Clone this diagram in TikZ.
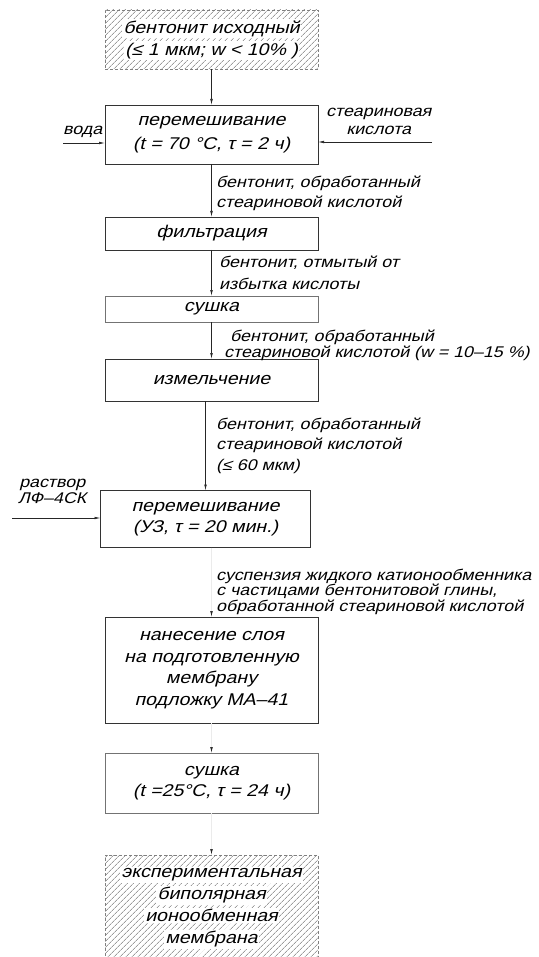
\documentclass[tikz,border=0pt]{standalone}
\usepackage{fontspec}
\setmainfont{Liberation Sans}[FakeSlant=0.25, FakeStretch=1.15]
\usetikzlibrary{arrows.meta, calc, patterns.meta, positioning}
\newcommand{\wline}[1]{{\setlength{\fboxsep}{1.5pt}\colorbox{white}{#1}}}

\begin{document}
\begin{tikzpicture}[x=1pt, y=-1pt,
   box/.style = {draw=black!80, line width=0.6pt,
                 font=\fontsize{17}{21.5}\selectfont,
                 align=center, inner sep=0pt, outer sep=0pt,
                 minimum width=213pt},
   hbx/.style = {draw=black!50, densely dashed, line width=0.5pt,
                 pattern={Lines[angle=45, distance=4pt, line width=0.55pt]},
                 pattern color=black!60,
                 minimum width=213pt, inner sep=0pt, outer sep=0pt},
   htx/.style = {inner sep=0pt, align=center,
                 font=\fontsize{17}{22}\selectfont},
   lbl/.style = {anchor=base west, align=left, inner sep=0pt,
                 font=\fontsize{15.5}{#1}\selectfont},
   arr/.style = {draw=black!85, line width=0.6pt,
                 -{Latex[length=6pt,width=2.6pt]}},
  farr/.style = {draw=black!8, line width=0.6pt,
                 -{Latex[length=6pt,width=2.6pt,color=black!85]}}
                        ]
\useasboundingbox (0,0) rectangle (538,957);
    % blocks (boxes)
\node (n1) [hbx, minimum height=59pt] at (211.5,39.5) {};
\node (t1) [htx] at (n1) {\wline{бентонит исходный}\\\wline{(≤ 1 мкм;  w < 10\% )}};
\node (n2) [box, minimum height=59pt, font=\fontsize{17}{24}\selectfont]
           at (211.5,134.5) {перемешивание\\(t = 70 °C, τ = 2 ч)};
\node (n3) [box, minimum height=33pt]  at (211.5,233.5) {фильтрация};
\node (n4) [box, minimum height=26pt, draw=black!55] at (211.5,309) {сушка};
\node (n5) [box, minimum height=42pt]  at (211.5,380) {измельчение};
\node (n6) [box, minimum height=57pt, minimum width=210pt] at (205.5,519)
           {перемешивание\\(УЗ, τ = 20 мин.)};
\node (n7) [box, minimum height=106pt] at (211.5,670)
           {нанесение слоя\\на подготовленную\\мембрану\\подложку МА–41};
\node (n8) [box, minimum height=60pt, draw=black!55] at (211.5,783)
           {сушка\\(t =25°C, τ = 24 ч)};
\node (n9) [hbx, minimum height=106pt] at (211.5,908) {};
\node (t9) [htx] at (n9)
           {\wline{экспериментальная}\\\wline{биполярная}\\\wline{ионообменная}\\\wline{мембрана}};
    % labels (anchored at the baseline of their last line)
\node (lw) [lbl=18] at (63,135)  {вода};
\node (ls) [lbl=18, align=center] at (326,135) {стеариновая\\кислота};
\node (lr) [lbl=15.5, align=center] at (18,503) {раствор\\ЛФ–4СК};
\node (l2) [lbl=20]   at (216,208) {бентонит, обработанный\\стеариновой кислотой};
\node (l3) [lbl=22]   at (219,290) {бентонит, отмытый от\\избытка кислоты};
\node (l4) [lbl=16]   at (224,357)
           {\hspace{6pt}бентонит, обработанный\\стеариновой кислотой (w = 10–15 \%)};
\node (l5) [lbl=20.5] at (216,470)
           {бентонит, обработанный\\стеариновой кислотой\\(≤ 60 мкм)};
\node (l6) [lbl=15.5] at (216,611)
           {суспензия жидкого катионообменника\\с частицами бентонитовой глины,\\обработанной стеариновой кислотой};
    % arrows
\coordinate (w) at (63,143);
\coordinate (s) at (432,142);
\coordinate (r) at (12,518);
\draw[arr] (n1) -- (n2);
\draw[arr] (w) -- (w -| n2.west);
\draw[arr] (s) -- (s -| n2.east);
\draw[arr] (n2) -- (n3);
\draw[arr] (n3) -- (n4);
\draw[arr] (n4) -- (n5);
\draw[arr] (n5.south -| n6.north) -- (n6);
\draw[arr] (r) -- (r -| n6.west);
\draw[farr] (n6.south -| n7.north) -- (n7);
\draw[farr] (n7) -- (n8);
\draw[farr] (n8) -- (n9);
\end{tikzpicture}
\end{document}
